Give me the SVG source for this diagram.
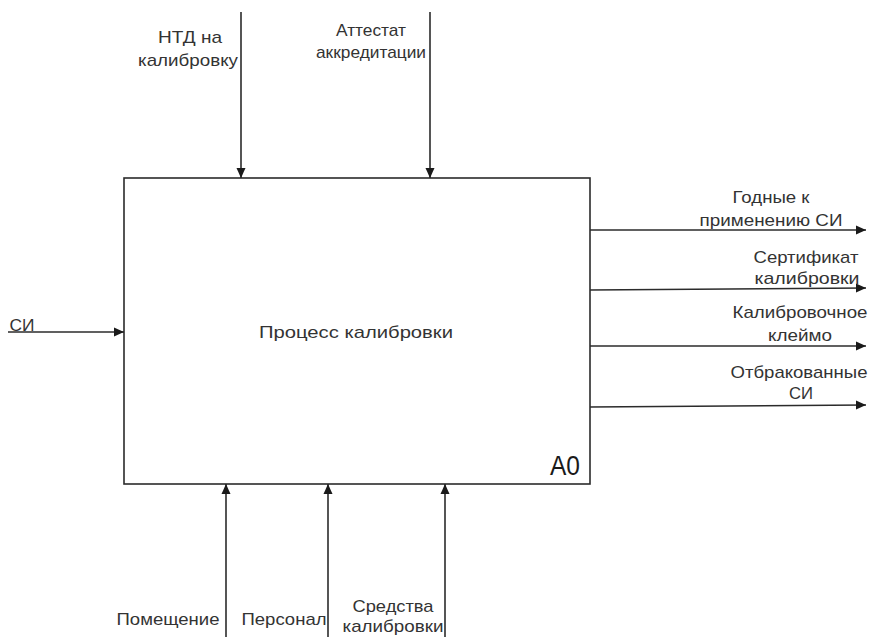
<svg xmlns="http://www.w3.org/2000/svg" width="871" height="637" viewBox="0 0 871 637">
  <style>
    .ln { stroke: #2b2b2b; stroke-width: 1.6; fill: none; }
    .box { stroke: #2b2b2b; stroke-width: 1.6; fill: #ffffff; }
    .lbl { font-family: "Liberation Sans", Arial, sans-serif; font-size: 17px; fill: #333333; text-anchor: middle; }
  </style>
  <defs>
    <marker id="arr" viewBox="0 0 10 10" refX="10" refY="5" markerWidth="10" markerHeight="10" markerUnits="userSpaceOnUse" orient="auto">
      <path d="M0,0.5 L10,5 L0,9.5 Z" fill="#1a1a1a"/>
    </marker>
  </defs>
  <rect width="871" height="637" fill="#ffffff"/>

  <!-- function block -->
  <g id="A0">
    <rect class="box" x="124" y="178" width="466" height="306"/>
    <text class="lbl" x="356" y="338" font-size="18" textLength="194" lengthAdjust="spacingAndGlyphs">Процесс калибровки</text>
    <text x="565" y="475" font-family="Liberation Sans, Arial, sans-serif" font-size="27" fill="#1a1a1a" text-anchor="middle" textLength="30" lengthAdjust="spacingAndGlyphs">A0</text>
  </g>

  <!-- ICOM arrows -->
  <g id="connectors">
    <line class="ln" x1="241" y1="12" x2="241" y2="178" marker-end="url(#arr)"/>
    <line class="ln" x1="430" y1="12" x2="430" y2="178" marker-end="url(#arr)"/>
    <line class="ln" x1="8" y1="332" x2="124" y2="332" marker-end="url(#arr)"/>
    <line class="ln" x1="590" y1="230" x2="866" y2="230" marker-end="url(#arr)"/>
    <line class="ln" x1="590" y1="290" x2="866" y2="288" marker-end="url(#arr)"/>
    <line class="ln" x1="590" y1="346" x2="866" y2="346" marker-end="url(#arr)"/>
    <line class="ln" x1="590" y1="407" x2="866" y2="405" marker-end="url(#arr)"/>
    <line class="ln" x1="226" y1="637" x2="226" y2="484" marker-end="url(#arr)"/>
    <line class="ln" x1="328" y1="637" x2="328" y2="484" marker-end="url(#arr)"/>
    <line class="ln" x1="445" y1="637" x2="445" y2="484" marker-end="url(#arr)"/>
  </g>

  <!-- arrow labels -->
  <g id="lbl-ntd">
    <text class="lbl" x="190" y="43" textLength="64" lengthAdjust="spacingAndGlyphs">НТД на</text>
    <text class="lbl" x="188" y="66" textLength="100" lengthAdjust="spacingAndGlyphs">калибровку</text>
  </g>
  <g id="lbl-attestat">
    <text class="lbl" x="371" y="36" textLength="70" lengthAdjust="spacingAndGlyphs">Аттестат</text>
    <text class="lbl" x="371" y="58" textLength="110" lengthAdjust="spacingAndGlyphs">аккредитации</text>
  </g>
  <g id="lbl-si-in">
    <text class="lbl" x="22" y="331" textLength="25" lengthAdjust="spacingAndGlyphs">СИ</text>
  </g>
  <g id="lbl-godnye">
    <text class="lbl" x="771" y="203" textLength="77" lengthAdjust="spacingAndGlyphs">Годные к</text>
    <text class="lbl" x="771" y="226" textLength="143" lengthAdjust="spacingAndGlyphs">применению СИ</text>
  </g>
  <g id="lbl-sertifikat">
    <text class="lbl" x="806" y="263" textLength="105" lengthAdjust="spacingAndGlyphs">Сертификат</text>
    <text class="lbl" x="807" y="284" textLength="105" lengthAdjust="spacingAndGlyphs">калибровки</text>
  </g>
  <g id="lbl-kleimo">
    <text class="lbl" x="800" y="318" textLength="135" lengthAdjust="spacingAndGlyphs">Калибровочное</text>
    <text class="lbl" x="800" y="341" textLength="64" lengthAdjust="spacingAndGlyphs">клеймо</text>
  </g>
  <g id="lbl-otbrak">
    <text class="lbl" x="799" y="378" textLength="137" lengthAdjust="spacingAndGlyphs">Отбракованные</text>
    <text class="lbl" x="801" y="399" textLength="24" lengthAdjust="spacingAndGlyphs">СИ</text>
  </g>
  <g id="lbl-pomeshchenie">
    <text class="lbl" x="168" y="625" textLength="103" lengthAdjust="spacingAndGlyphs">Помещение</text>
  </g>
  <g id="lbl-personal">
    <text class="lbl" x="284" y="625" textLength="85" lengthAdjust="spacingAndGlyphs">Персонал</text>
  </g>
  <g id="lbl-sredstva">
    <text class="lbl" x="393" y="612" textLength="81" lengthAdjust="spacingAndGlyphs">Средства</text>
    <text class="lbl" x="393" y="632" textLength="101" lengthAdjust="spacingAndGlyphs">калибровки</text>
  </g>
</svg>
